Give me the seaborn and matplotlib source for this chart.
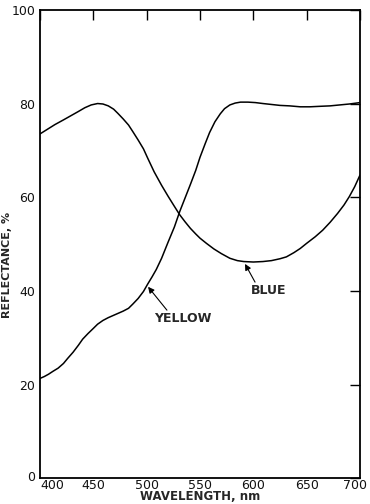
import matplotlib
matplotlib.use("Agg")
import matplotlib.pyplot as plt
import matplotlib.transforms as mtransforms
import seaborn as sns
import pandas as pd

# Data
blue_wl = [400, 407, 414, 422, 429, 436, 442, 448, 454, 459, 464, 469, 473, 478, 483,
           487, 492, 497, 501, 507, 514, 520, 526, 531, 536, 541, 546, 550, 556, 563,
           570, 578, 585, 591, 600, 609, 617, 625, 631, 638, 644, 650, 658, 665, 672,
           679, 685, 690, 695, 700]
blue_r = [73.6, 74.6, 75.6, 76.6, 77.5, 78.4, 79.2, 79.8, 80.1, 80.0, 79.6, 78.9, 78.0,
          76.8, 75.5, 74.1, 72.3, 70.4, 68.4, 65.5, 62.6, 60.3, 58.1, 56.3, 54.8, 53.4,
          52.2, 51.3, 50.2, 49.0, 48.0, 47.0, 46.5, 46.3, 46.2, 46.3, 46.5, 46.9, 47.3,
          48.2, 49.1, 50.2, 51.6, 53.0, 54.7, 56.6, 58.4, 60.2, 62.3, 64.8]

yellow_wl = [400, 404, 408, 412, 417, 422, 426, 431, 436, 440, 445, 450, 454, 459, 464,
             469, 473, 478, 483, 487, 492, 497, 501, 505, 509, 514, 520, 526, 531, 536,
             541, 546, 550, 555, 559, 564, 569, 573, 578, 583, 588, 595, 602, 609, 617,
             625, 634, 644, 653, 662, 672, 681, 690, 700]
yellow_r = [21.3, 21.7, 22.2, 22.8, 23.5, 24.5, 25.6, 26.9, 28.4, 29.7, 30.9, 32.0, 32.9,
            33.7, 34.3, 34.8, 35.2, 35.7, 36.3, 37.2, 38.4, 39.9, 41.5, 43.0, 44.6, 47.0,
            50.4, 53.7, 57.0, 59.9, 62.8, 65.8, 68.6, 71.6, 73.9, 76.2, 77.9, 79.0, 79.8,
            80.2, 80.4, 80.4, 80.3, 80.1, 79.9, 79.7, 79.6, 79.4, 79.4, 79.5, 79.6, 79.8,
            80.0, 80.3]

x_ticks = [400, 450, 500, 550, 600, 650, 700]
y_ticks = [0, 20, 40, 60, 80, 100]

df = pd.concat([
    pd.DataFrame({"wavelength": blue_wl, "reflectance": blue_r, "sample": "BLUE"}),
    pd.DataFrame({"wavelength": yellow_wl, "reflectance": yellow_r, "sample": "YELLOW"}),
])

sns.set_style("white")
plt.rcParams["font.family"] = ["DejaVu Sans"]

fig = plt.figure(figsize=(3.7, 5.04), dpi=100)
ax = fig.add_axes([40 / 370, 1 - 478 / 504, 320 / 370, 467.5 / 504])

sns.lineplot(data=df, x="wavelength", y="reflectance", units="sample", estimator=None,
             color="black", linewidth=1.1, ax=ax, legend=False, sort=False)

ax.set_xlim(400, 700)
ax.set_ylim(0, 100)
ax.set_xticks(x_ticks)
ax.set_yticks(y_ticks)
ax.tick_params(direction="in", length=7, width=1.0, color="black", labelsize=9,
               labelcolor="#111111", top=True, right=True, labeltop=False,
               labelright=False)
ax.tick_params(axis="x", pad=0.5)
for s in ax.spines.values():
    s.set_color("black")
    s.set_linewidth(1.3)

# nudge the corner tick labels as in the reference
xl = ax.get_xticklabels()
xl[0].set_transform(xl[0].get_transform() + mtransforms.ScaledTranslation(12 / 100, 0, fig.dpi_scale_trans))
xl[-1].set_transform(xl[-1].get_transform() + mtransforms.ScaledTranslation(-5 / 100, 0, fig.dpi_scale_trans))
yl = ax.get_yticklabels()
yl[0].set_transform(yl[0].get_transform() + mtransforms.ScaledTranslation(0, 2 / 100, fig.dpi_scale_trans))

ax.set_xlabel("WAVELENGTH, nm", fontsize=8.5, fontweight="bold", va="center")
ax.xaxis.set_label_coords(0.5, -0.040)
ax.set_ylabel("REFLECTANCE, %", fontsize=8, fontweight="bold", va="center")
ax.yaxis.set_label_coords(-0.103, 0.456)

ax.text(614.2, 40.2, "BLUE", fontsize=9, fontweight="bold", ha="center", va="center")
ax.text(533.6, 34.2, "YELLOW", fontsize=9, fontweight="bold", ha="center", va="center")
arrow = dict(arrowstyle="-|>", color="black", lw=0.8, mutation_scale=9,
             shrinkA=0, shrinkB=0)
ax.annotate("", xy=(592.2, 45.8), xytext=(601.6, 41.9), arrowprops=arrow)
ax.annotate("", xy=(501.3, 40.9), xytext=(519.0, 35.9), arrowprops=arrow)

fig.savefig("out.png", dpi=100)
